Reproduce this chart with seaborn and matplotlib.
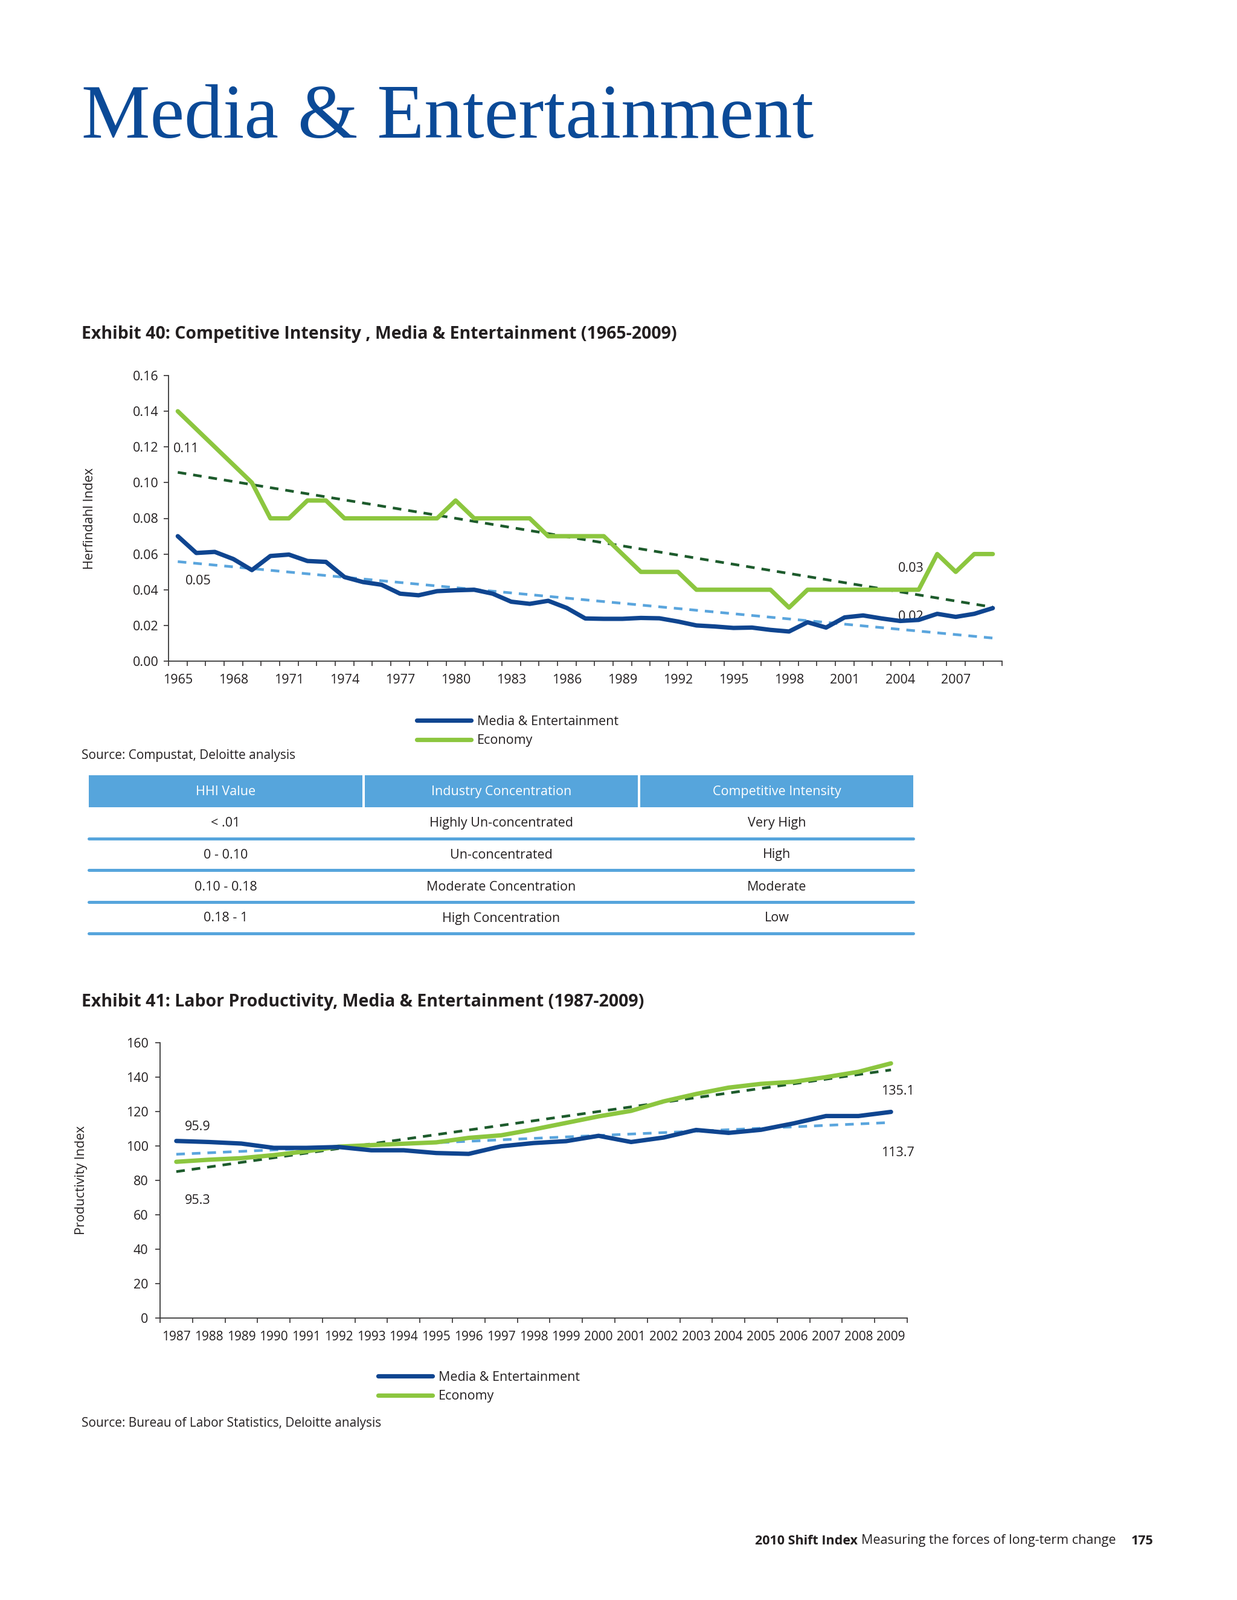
import numpy as np
import pandas as pd
import matplotlib
matplotlib.use("Agg")
import matplotlib.pyplot as plt
import seaborn as sns
from matplotlib.lines import Line2D
from matplotlib.patches import Rectangle

# ---------------- data ----------------
hhi_years = list(range(1965, 2010))
hhi_media = [0.0700, 0.0606, 0.0612, 0.0572, 0.0510, 0.0589, 0.0597, 0.0561, 0.0556, 0.0471,
             0.0443, 0.0428, 0.0378, 0.0369, 0.0392, 0.0397, 0.0400, 0.0378, 0.0333, 0.0321,
             0.0338, 0.0298, 0.0239, 0.0237, 0.0237, 0.0242, 0.0240, 0.0222, 0.0200, 0.0194,
             0.0186, 0.0188, 0.0175, 0.0166, 0.0218, 0.0188, 0.0245, 0.0256, 0.0239, 0.0225,
             0.0231, 0.0265, 0.0248, 0.0265, 0.0297]
hhi_economy = [0.14, 0.13, 0.12, 0.11, 0.10, 0.08, 0.08, 0.09, 0.09, 0.08,
               0.08, 0.08, 0.08, 0.08, 0.08, 0.09, 0.08, 0.08, 0.08, 0.08,
               0.07, 0.07, 0.07, 0.07, 0.06, 0.05, 0.05, 0.05, 0.04, 0.04,
               0.04, 0.04, 0.04, 0.03, 0.04, 0.04, 0.04, 0.04, 0.04, 0.04,
               0.04, 0.06, 0.05, 0.06, 0.06]
hhi_label_years = list(range(1965, 2010, 3))
hhi_yticks = [0.00, 0.02, 0.04, 0.06, 0.08, 0.10, 0.12, 0.14, 0.16]
hhi_notes = ["0.11", "0.05", "0.03", "0.02"]

prod_years = list(range(1987, 2010))
prod_media = [102.9, 102.3, 101.4, 98.9, 98.9, 99.4, 97.5, 97.5, 95.9, 95.4,
              99.8, 101.7, 102.8, 105.9, 102.3, 104.9, 109.3, 107.6, 109.4, 113.1,
              117.4, 117.4, 119.8]
prod_economy = [90.8, 92.0, 92.9, 94.7, 96.9, 99.6, 100.5, 101.3, 102.1, 104.7,
                106.2, 109.6, 113.4, 117.2, 120.4, 125.9, 130.2, 133.9, 136.1, 137.3,
                140.0, 143.1, 148.0]
prod_yticks = [0, 20, 40, 60, 80, 100, 120, 140, 160]
prod_notes = ["95.9", "95.3", "135.1", "113.7"]

series_names = ["Media & Entertainment", "Economy"]

table_header = ["HHI Value", "Industry Concentration", "Competitive Intensity"]
table_rows = [["< .01", "Highly Un-concentrated", "Very High"],
              ["0 - 0.10", "Un-concentrated", "High"],
              ["0.10 - 0.18", "Moderate Concentration", "Moderate"],
              ["0.18 - 1", "High Concentration", "Low"]]

# ---------------- style ----------------
BLUE = "#0f4590"
GREEN = "#8cc63f"
DKGREEN = "#1d5b2c"
LTBLUE = "#5aa5dd"
HEADER = "#56a5dc"
TXT = "#231f20"
TITLE = "#0b4a97"

sns.set_style("white")
plt.rcParams["font.family"] = ["Open Sans", "DejaVu Sans"]
plt.rcParams["text.color"] = TXT
plt.rcParams["axes.labelcolor"] = TXT
plt.rcParams["xtick.color"] = TXT
plt.rcParams["ytick.color"] = TXT

W, H = 2048, 2650
DPI = 100
fig = plt.figure(figsize=(W / DPI, H / DPI), dpi=DPI)
fig.patch.set_facecolor("white")


def rect(l, t, r, b):
    return [l / W, 1 - b / H, (r - l) / W, (b - t) / H]


def fx(x):
    return x / W


def fy(y):
    return 1 - y / H


palette = {series_names[0]: BLUE, series_names[1]: GREEN}
trend_colors = {series_names[0]: LTBLUE, series_names[1]: DKGREEN}


def style_axes(ax):
    for s in ["top", "right"]:
        ax.spines[s].set_visible(False)
    for s in ["left", "bottom"]:
        ax.spines[s].set_color("#3a3a3a")
        ax.spines[s].set_linewidth(1.3)
    ax.set_facecolor("none")


def draw_chart(ax, years, media, economy):
    df = pd.DataFrame({
        "year": years * 2,
        "value": media + economy,
        "series": [series_names[0]] * len(years) + [series_names[1]] * len(years),
    })
    for name in series_names[::-1]:
        sub = df[df["series"] == name]
        sns.regplot(data=sub, x="year", y="value", scatter=False, ci=None, ax=ax,
                    truncate=True,
                    line_kws=dict(color=trend_colors[name], lw=3.2, ls=(0, (3.2, 2.6)),
                                  zorder=3))
    sns.lineplot(data=df, x="year", y="value", hue="series", palette=palette,
                 hue_order=series_names[::-1], linewidth=5.2, ax=ax, legend=False,
                 zorder=4)
    for ln in ax.lines:
        ln.set_solid_capstyle("round")
    ax.set_xlabel("")
    ax.set_ylabel("")


# ---------------- title ----------------
fig.text(fx(135), fy(228), "Media & Entertainment", fontsize=92, color=TITLE,
         family=["Liberation Serif", "DejaVu Serif"], va="baseline", ha="left")

# ---------------- Exhibit 40 ----------------
fig.text(fx(135), fy(553), "Exhibit 40: Competitive Intensity , Media & Entertainment (1965-2009)",
         fontsize=20.5, fontweight="bold", va="center", ha="left")

ax1 = fig.add_axes(rect(279, 622, 1659, 1095))
draw_chart(ax1, hhi_years, hhi_media, hhi_economy)
style_axes(ax1)
ax1.set_xlim(hhi_years[0] - 0.5, hhi_years[-1] + 0.5)
ax1.set_ylim(0, 0.16)
ax1.set_yticks(hhi_yticks)
ax1.set_yticklabels([f"{v:.2f}" for v in hhi_yticks])
ax1.set_xticks(np.arange(hhi_years[0] - 0.5, hhi_years[-1] + 1.0, 1.0))
ax1.set_xticklabels([])
ax1.set_xticks(hhi_label_years, minor=True)
ax1.set_xticklabels([str(y) for y in hhi_label_years], minor=True)
ax1.tick_params(axis="x", which="major", direction="out", length=6, width=1.1, bottom=True)
ax1.tick_params(axis="x", which="minor", length=0, pad=15, labelsize=15.5, bottom=True)
ax1.tick_params(axis="y", which="major", direction="out", length=6, width=1.1, pad=6,
                labelsize=15.5, left=True)
ax1.set_ylabel("Herfindahl Index", fontsize=15.5)
ax1.yaxis.set_label_coords(-0.087, 0.5)

ax1.text(1964.75, 0.119, hhi_notes[0], fontsize=15.5, va="center", ha="left")
ax1.text(1965.4, 0.0447, hhi_notes[1], fontsize=15.5, va="center", ha="left")
ax1.text(2003.9, 0.052, hhi_notes[2], fontsize=15.5, va="center", ha="left")
ax1.text(2003.9, 0.0247, hhi_notes[3], fontsize=15.5, va="center", ha="left")

leg_handles = [Line2D([0], [0], color=BLUE, lw=5.2, solid_capstyle="round"),
               Line2D([0], [0], color=GREEN, lw=5.2, solid_capstyle="round")]
fig.legend(leg_handles, series_names, loc="center left",
           bbox_to_anchor=(fx(690), fy(1211)), frameon=False, fontsize=15.5,
           handlelength=4.2, handletextpad=0.45, labelspacing=0.5, borderpad=0,
           borderaxespad=0)

fig.text(fx(135), fy(1252), "Source: Compustat, Deloitte analysis", fontsize=15,
         va="center", ha="left")

# ---------------- table ----------------
col_edges = [(147, 600), (604, 1056), (1060, 1512)]
hdr_top, hdr_bot = 1284, 1337
for (l, r), label in zip(col_edges, table_header):
    fig.patches.append(Rectangle((fx(l), fy(hdr_bot)), (r - l) / W, (hdr_bot - hdr_top) / H,
                                 transform=fig.transFigure, facecolor=HEADER,
                                 edgecolor="none"))
    fig.text(fx((l + r) / 2), fy((hdr_top + hdr_bot) / 2 + 1), label, color="white",
             fontsize=15.5, ha="center", va="center")
row_centers = [1364, 1416, 1469, 1521]
sep_lines = [1389, 1441, 1494, 1546]
for rc, sl, row in zip(row_centers, sep_lines, table_rows):
    for (l, r), cell in zip(col_edges, row):
        fig.text(fx((l + r) / 2), fy(rc), cell, fontsize=15.5, ha="center", va="center")
    fig.add_artist(Line2D([fx(147), fx(1512)], [fy(sl), fy(sl)], color=HEADER, lw=3.6,
                          transform=fig.transFigure))

# ---------------- Exhibit 41 ----------------
fig.text(fx(135), fy(1659), "Exhibit 41: Labor Productivity, Media & Entertainment (1987-2009)",
         fontsize=20.5, fontweight="bold", va="center", ha="left")

ax2 = fig.add_axes(rect(265, 1727, 1502, 2183))
draw_chart(ax2, prod_years, prod_media, prod_economy)
style_axes(ax2)
ax2.set_xlim(prod_years[0] - 0.5, prod_years[-1] + 0.5)
ax2.set_ylim(0, 160)
ax2.set_yticks(prod_yticks)
ax2.set_yticklabels([str(v) for v in prod_yticks])
ax2.set_xticks(np.arange(prod_years[0] - 0.5, prod_years[-1] + 1.0, 1.0))
ax2.set_xticklabels([])
ax2.set_xticks(prod_years, minor=True)
ax2.set_xticklabels([str(y) for y in prod_years], minor=True)
ax2.tick_params(axis="x", which="major", direction="out", length=6, width=1.1, bottom=True)
ax2.tick_params(axis="x", which="minor", length=0, pad=15, labelsize=15, bottom=True)
ax2.tick_params(axis="y", which="major", direction="out", length=6, width=1.1, pad=8,
                labelsize=15.5, left=True)
ax2.set_ylabel("Productivity Index", fontsize=15.5)
ax2.yaxis.set_label_coords(-0.097, 0.5)

ax2.text(1987.26, 110.9, prod_notes[0], fontsize=15.5, va="center", ha="left")
ax2.text(1987.26, 68.1, prod_notes[1], fontsize=15.5, va="center", ha="left")
ax2.text(2008.7, 131.6, prod_notes[2], fontsize=15.5, va="center", ha="left")
ax2.text(2008.7, 96.1, prod_notes[3], fontsize=15.5, va="center", ha="left")

fig.legend(leg_handles, series_names, loc="center left",
           bbox_to_anchor=(fx(626), fy(2297)), frameon=False, fontsize=15.5,
           handlelength=4.2, handletextpad=0.45, labelspacing=0.5, borderpad=0,
           borderaxespad=0)

fig.text(fx(135), fy(2357), "Source: Bureau of Labor Statistics, Deloitte analysis",
         fontsize=15, va="center", ha="left")

# ---------------- footer ----------------
renderer = fig.canvas.get_renderer()
t3 = fig.text(fx(1910), fy(2552), "175", fontsize=15.5, fontweight="bold",
              ha="right", va="center")
bb = t3.get_window_extent(renderer=renderer)
t2 = fig.text((bb.x0 - 26) / W, fy(2552), "Measuring the forces of long-term change",
              fontsize=15.5, ha="right", va="center")
bb2 = t2.get_window_extent(renderer=renderer)
fig.text((bb2.x0 - 6) / W, fy(2552), "2010 Shift Index", fontsize=15.5, fontweight="bold",
         ha="right", va="center")

fig.savefig("out.png", dpi=DPI, facecolor="white")
